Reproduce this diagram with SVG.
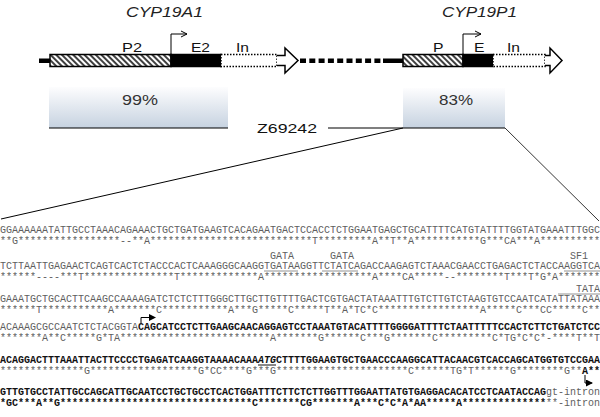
<svg xmlns="http://www.w3.org/2000/svg" width="600" height="417" viewBox="0 0 600 417">
<style>
.title{font-family:"Liberation Sans",Arial,sans-serif;font-style:italic;font-size:14px;fill:#222}
.lab{font-family:"Liberation Sans",Arial,sans-serif;font-size:13px;fill:#111}
.pct{font-family:"Liberation Sans",Arial,sans-serif;font-size:14.5px;fill:#333}
.seq{font-family:"Liberation Mono","DejaVu Sans Mono",monospace;font-size:10px;fill:#5e5e5e}
.b{font-weight:bold;fill:#111}
.g{font-weight:normal;fill:#5e5e5e}
.thin{stroke:#000;stroke-width:1;fill:none}
.ul{stroke:#777;stroke-width:0.8}
</style>
<defs>
<pattern id="hatch" patternUnits="userSpaceOnUse" width="4" height="8" patternTransform="rotate(-45)">
<rect width="4" height="8" fill="#fff"/>
<line x1="1" y1="0" x2="1" y2="8" stroke="#000" stroke-width="1.5"/>
</pattern>
<linearGradient id="grad" x1="0" y1="0" x2="0" y2="1">
<stop offset="0" stop-color="#fdfdfe"/>
<stop offset="1" stop-color="#c6d2e0"/>
</linearGradient>
<marker id="open" markerWidth="8" markerHeight="8" refX="7" refY="4" orient="auto" markerUnits="userSpaceOnUse">
<path d="M1,1 L7,4 L1,7" fill="none" stroke="#000" stroke-width="1"/>
</marker>
<marker id="solid" markerWidth="7" markerHeight="7" refX="6" refY="3.5" orient="auto" markerUnits="userSpaceOnUse">
<path d="M0,0 L7,3.5 L0,7 Z" fill="#000"/>
</marker>
</defs>
<rect width="600" height="417" fill="#fff"/>

<g id="gene1">
<text class="title" x="126" y="17" textLength="77" lengthAdjust="spacingAndGlyphs">CYP19A1</text>
<rect x="39" y="58.5" width="11" height="4.5" fill="#000"/>
<rect x="50" y="54.5" width="121" height="12" fill="url(#hatch)" stroke="#000" stroke-width="1.5"/>
<rect x="171" y="54.5" width="50" height="12" fill="#000" stroke="#000" stroke-width="1.5"/>
<rect x="221" y="54.5" width="56" height="12" fill="#fff" stroke="#000" stroke-width="1.5" stroke-dasharray="1.5,1.5"/>
<path d="M277,55.5 H285 V48 L298,60.5 L285,73 V65.5 H277" fill="#fff" stroke="#000" stroke-width="1.5"/>
<path d="M171,54.5 V34 H187" class="thin" marker-end="url(#open)"/>
<text class="lab" x="122" y="52" textLength="20" lengthAdjust="spacingAndGlyphs">P2</text>
<text class="lab" x="191" y="52" textLength="19" lengthAdjust="spacingAndGlyphs">E2</text>
<text class="lab" x="236" y="52" textLength="13" lengthAdjust="spacingAndGlyphs">In</text>
</g>

<g id="gene2">
<text class="title" x="442" y="17" textLength="75" lengthAdjust="spacingAndGlyphs">CYP19P1</text>
<rect x="383" y="58.5" width="20" height="4.5" fill="#000"/>
<rect x="403" y="54.5" width="60" height="12" fill="url(#hatch)" stroke="#000" stroke-width="1.5"/>
<rect x="463" y="54.5" width="30" height="12" fill="#000" stroke="#000" stroke-width="1.5"/>
<rect x="493" y="54.5" width="52" height="12" fill="#fff" stroke="#000" stroke-width="1.5" stroke-dasharray="1.5,1.5"/>
<path d="M545,55.5 H550 V48 L562,60.5 L550,73 V65.5 H545" fill="#fff" stroke="#000" stroke-width="1.5"/>
<path d="M463,54.5 V34 H481" class="thin" marker-end="url(#open)"/>
<text class="lab" x="433" y="52" textLength="10.5" lengthAdjust="spacingAndGlyphs">P</text>
<text class="lab" x="474" y="52" textLength="10.5" lengthAdjust="spacingAndGlyphs">E</text>
<text class="lab" x="507" y="52" textLength="13" lengthAdjust="spacingAndGlyphs">In</text>
</g>

<g id="box99">
<rect x="49" y="87" width="179" height="41" fill="url(#grad)"/>
<line x1="49" y1="128" x2="228" y2="128" stroke="#000" stroke-width="1.2"/>
<text class="pct" x="122" y="105" textLength="36" lengthAdjust="spacingAndGlyphs">99%</text>
</g>

<g id="box83">
<rect x="403" y="88" width="102" height="40" fill="url(#grad)"/>
<text class="pct" x="439" y="105" textLength="34" lengthAdjust="spacingAndGlyphs">83%</text>
</g>

<g id="z69242">
<text class="lab" x="257" y="133" textLength="60" lengthAdjust="spacingAndGlyphs">Z69242</text>
</g>

<g id="connectors">
<line x1="300" y1="60.7" x2="383" y2="60.7" stroke="#000" stroke-width="4.5" stroke-dasharray="6,3.3"/>
<line x1="328" y1="128" x2="505" y2="128" stroke="#000" stroke-width="1.2"/>
<line x1="403" y1="128" x2="1" y2="219" stroke="#000" stroke-width="1"/>
<line x1="505" y1="128" x2="599" y2="221" stroke="#000" stroke-width="0.8"/>
</g>

<g id="alignment">
<text class="seq" y="233"><tspan x="0">GGAAAAAATATTGCCTAAACAGAAACTGCTGATG</tspan><tspan x="204">AAGTCACAGAATGACTCCACCTCTGGAATGAGC</tspan><tspan x="402">TGCATTTTCATGTATTTTGGTATGAAATTTGGC</tspan></text>
<text class="seq" y="243.5"><tspan x="0">**G*****************--**A*********</tspan><tspan x="204">******************T*********A**T*</tspan><tspan x="402">*A***********G***CA***A**********</tspan></text>

<text class="seq" x="270" y="259">GATA</text>
<text class="seq" x="330" y="259">GATA</text>
<text class="seq" x="570" y="259">SF1</text>
<text class="seq" y="269"><tspan x="0">TCTTAATTGAGAACTCAGTCACTCTACCCACTCA</tspan><tspan x="204">AAGGGCAAGGTGATAAGGTTCTATCAGACCAAG</tspan><tspan x="402">AGTCTAAACGAACCTGAGACTCTACCAAGGTCA</tspan></text>
<line class="ul" x1="264" y1="271" x2="298" y2="271"/>
<line class="ul" x1="322" y1="271" x2="358" y2="271"/>
<line class="ul" x1="564" y1="271" x2="600" y2="271"/>
<text class="seq" y="279.5"><tspan x="0">******----***T***************T****</tspan><tspan x="204">*********A******************A****</tspan><tspan x="402">CA*****--********T***T*G*A*******</tspan></text>

<text class="seq" x="576" y="292">TATA</text>
<line class="ul" x1="558" y1="294" x2="600" y2="294"/>
<text class="seq" y="302"><tspan x="0">GAAATGCTGCACTTCAAGCCAAAAGATCTCTCTT</tspan><tspan x="204">TGGGCTTGCTTGTTTTGACTCGTGACTATAAAT</tspan><tspan x="402">TTGTCTTGTCTAAGTGTCCAATCATATTATAAA</tspan></text>
<text class="seq" y="312.5"><tspan x="0">******T***********A*******C*******</tspan><tspan x="204">****A***G*****C*****T**A*TC*C****</tspan><tspan x="402">*************A*****C***CC*****C**</tspan></text>

<path d="M141,323 V317.5 H155" class="thin" marker-end="url(#solid)"/>
<text class="seq" y="330"><tspan x="0">ACAAAGCGCCAATCTCTACGGTA</tspan><tspan class="b">CAGCATCCTCT</tspan><tspan class="b" x="204">TGAAGCAACAGGAGTCCTAAATGTACATTTTGG</tspan><tspan class="b" x="402">GGATTTTCTAATTTTTCCACTCTTCTGATCTCC</tspan></text>
<text class="seq" y="340.5"><tspan x="0">*******A**C*****G*TA**************</tspan><tspan x="204">***********A*******G******C***G**</tspan><tspan x="402">*****C*********C*TG*C*C*-****T**T</tspan></text>

<text class="seq b" y="363"><tspan x="0">ACAGGACTTTAAATTACTTCCCCTGAGATCAAGG</tspan><tspan x="204">TAAAACAAA</tspan><tspan font-style="italic">ATG</tspan><tspan>CTTTTGGAAGTGCTGAACCCA</tspan><tspan x="402">AGGCATTACAACGTCACCAGCATGGTGTCCGAA</tspan></text>
<line x1="258" y1="365" x2="276" y2="365" stroke="#111" stroke-width="1"/>
<text class="seq" y="373.5"><tspan x="0">**************G******************G</tspan><tspan x="204">*CC****G***G*********************</tspan><tspan x="402">*C******TG*T******G********G**</tspan><tspan class="b">A**</tspan></text>
<path d="M585,375 V383 H592" class="thin" marker-end="url(#solid)"/>

<text class="seq" y="395"><tspan class="b" x="0">GTTGTGCCTATTGCCAGCATTGCAATCCTGCTGC</tspan><tspan class="b" x="204">CTCACTGGATTTCTTCTCTTGGTTTGGAATTAT</tspan><tspan class="b" x="402">GTGAGGACACATCCTCAATACCAG</tspan><tspan x="546">gt-intron</tspan></text>
<text class="seq" y="405.5"><tspan class="b" x="0">*GC***A**G************************</tspan><tspan class="b" x="204">********C*******CG*******A***C*C*</tspan><tspan class="b" x="402">A*AA*****A**************</tspan><tspan x="546">**-intron</tspan></text>
</g>
</svg>
